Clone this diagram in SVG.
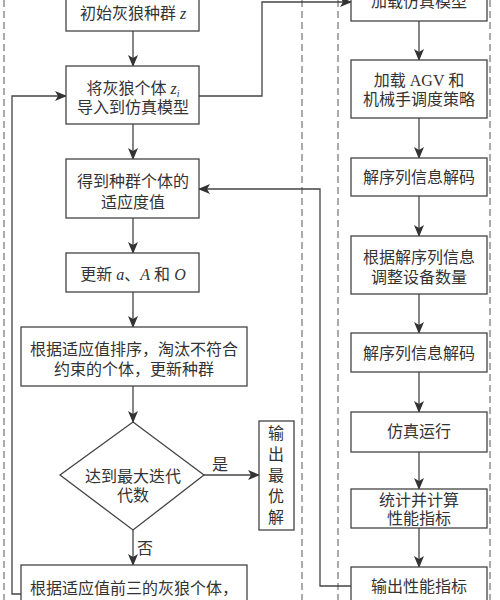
<svg xmlns="http://www.w3.org/2000/svg" width="500" height="600" viewBox="0 0 500 600">
<defs>
<style>
.box{fill:#fff;stroke:#444;stroke-width:1.3}
.ln{fill:none;stroke:#444;stroke-width:1.3}
.dash{fill:none;stroke:#666;stroke-width:1.1;stroke-dasharray:7,4}
text{font-family:"Liberation Serif","Noto Sans CJK SC",serif;font-size:16px;fill:#333;text-anchor:middle}
.it{font-style:italic}
</style>
<marker id="ah" markerWidth="12" markerHeight="10" refX="11" refY="5" orient="auto" markerUnits="userSpaceOnUse">
<path d="M0,0 L12,5 L0,10 L3,5 Z" fill="#333"/>
</marker>
</defs>
<rect width="500" height="600" fill="#fff"/>
<g id="frames">
<line class="dash" x1="4" y1="0" x2="4" y2="600"/>
<line class="dash" x1="302" y1="0" x2="302" y2="600"/>
<line class="dash" x1="338" y1="0" x2="338" y2="600"/>
<line class="dash" x1="490" y1="0" x2="490" y2="600"/>
</g>
<g id="connectors">
<line class="ln" x1="133" y1="31" x2="133" y2="66" marker-end="url(#ah)"/>
<line class="ln" x1="133" y1="124" x2="133" y2="159" marker-end="url(#ah)"/>
<line class="ln" x1="133" y1="218" x2="133" y2="253" marker-end="url(#ah)"/>
<line class="ln" x1="133" y1="292" x2="133" y2="327" marker-end="url(#ah)"/>
<line class="ln" x1="133" y1="386" x2="133" y2="422" marker-end="url(#ah)"/>
<line class="ln" x1="204" y1="475" x2="259" y2="475" marker-end="url(#ah)"/>
<line class="ln" x1="133" y1="530" x2="133" y2="565" marker-end="url(#ah)"/>
<polyline class="ln" points="21,594 12,594 12,96 66,96" marker-end="url(#ah)"/>
<polyline class="ln" points="199,96 262,96 262,2 351,2" marker-end="url(#ah)"/>
<line class="ln" x1="419" y1="21" x2="419" y2="60" marker-end="url(#ah)"/>
<line class="ln" x1="419" y1="118" x2="419" y2="158" marker-end="url(#ah)"/>
<line class="ln" x1="419" y1="196" x2="419" y2="236" marker-end="url(#ah)"/>
<line class="ln" x1="419" y1="294" x2="419" y2="333" marker-end="url(#ah)"/>
<line class="ln" x1="419" y1="372" x2="419" y2="412" marker-end="url(#ah)"/>
<line class="ln" x1="419" y1="452" x2="419" y2="489" marker-end="url(#ah)"/>
<line class="ln" x1="419" y1="528" x2="419" y2="567" marker-end="url(#ah)"/>
<polyline class="ln" points="351,586 320,586 320,189 199,189" marker-end="url(#ah)"/>
<text x="220" y="470">是</text>
<text x="145" y="554">否</text>
</g>
<g id="n1"><rect class="box" x="66" y="-10" width="133" height="41"/><text x="133" y="19">初始灰狼种群 <tspan class="it">z</tspan></text></g>
<g id="n2"><rect class="box" x="66" y="66" width="133" height="58"/><text x="133" y="94">将灰狼个体 <tspan class="it">z</tspan><tspan class="it" font-size="10" dy="3">i</tspan></text><text x="133" y="113">导入到仿真模型</text></g>
<g id="n3"><rect class="box" x="66" y="159" width="133" height="59"/><text x="133" y="187">得到种群个体的</text><text x="133" y="208">适应度值</text></g>
<g id="n4"><rect class="box" x="66" y="253" width="133" height="39"/><text x="133" y="280">更新 <tspan class="it">a</tspan>、<tspan class="it">A</tspan> 和 <tspan class="it">O</tspan></text></g>
<g id="n5"><rect class="box" x="21" y="327" width="226" height="59"/><text x="134" y="355">根据适应值排序，淘汰不符合</text><text x="134" y="375">约束的个体，更新种群</text></g>
<g id="n6"><polygon class="box" points="133,422 204,475 133,530 60,475"/><text x="133" y="482">达到最大迭代</text><text x="133" y="501">代数</text></g>
<g id="n7"><rect class="box" x="259" y="421" width="35" height="109"/><text x="276" y="439">输</text><text x="276" y="460">出</text><text x="276" y="481">最</text><text x="276" y="502">优</text><text x="276" y="523">解</text></g>
<g id="n8"><rect class="box" x="21" y="565" width="226" height="60"/><text x="134" y="594">根据适应值前三的灰狼个体，</text><text x="134" y="614">更新其他灰狼个体的位置</text></g>
<g id="r1"><rect class="box" x="351" y="-20" width="136" height="41"/><text x="419" y="7">加载仿真模型</text></g>
<g id="r2"><rect class="box" x="351" y="60" width="136" height="58"/><text x="419" y="86">加载 AGV 和</text><text x="419" y="105">机械手调度策略</text></g>
<g id="r3"><rect class="box" x="351" y="158" width="136" height="38"/><text x="419" y="183">解序列信息解码</text></g>
<g id="r4"><rect class="box" x="351" y="236" width="136" height="58"/><text x="419" y="263">根据解序列信息</text><text x="419" y="283">调整设备数量</text></g>
<g id="r5"><rect class="box" x="351" y="333" width="136" height="39"/><text x="419" y="359">解序列信息解码</text></g>
<g id="r6"><rect class="box" x="351" y="412" width="136" height="40"/><text x="419" y="437">仿真运行</text></g>
<g id="r7"><rect class="box" x="351" y="489" width="136" height="39"/><text x="419" y="506">统计并计算</text><text x="419" y="524">性能指标</text></g>
<g id="r8"><rect class="box" x="351" y="567" width="136" height="50"/><text x="419" y="592">输出性能指标</text></g>
</svg>
